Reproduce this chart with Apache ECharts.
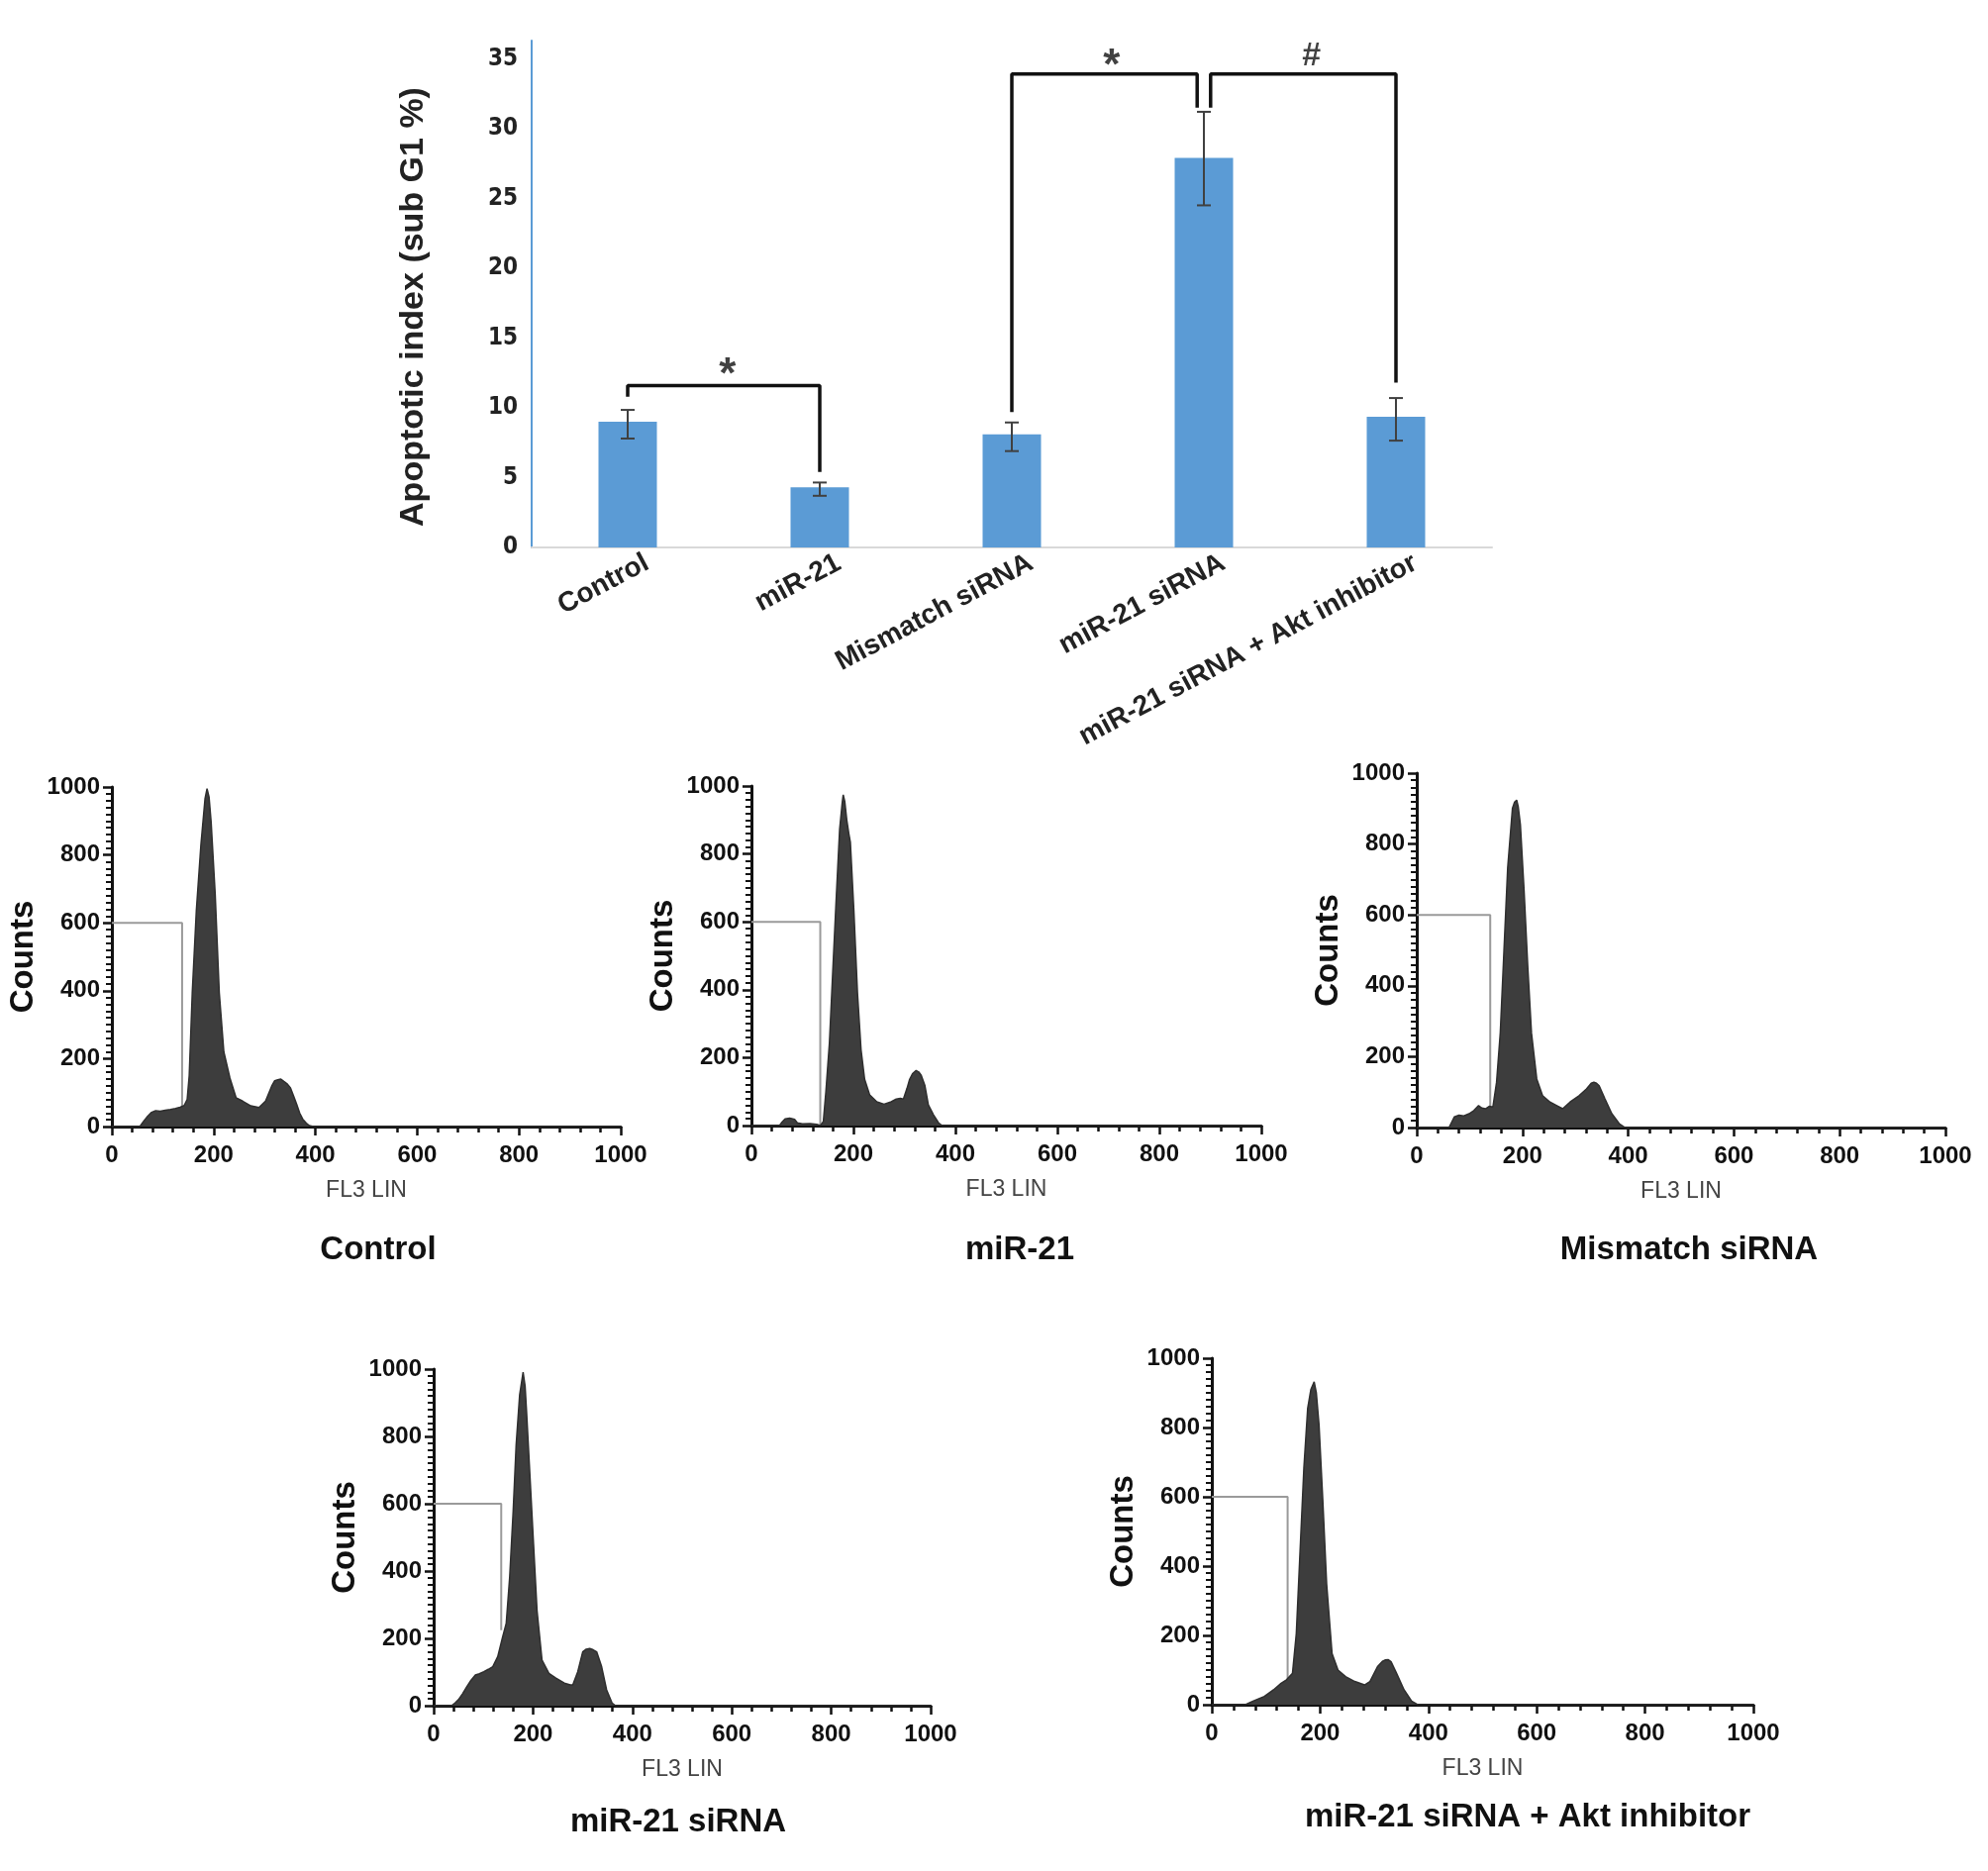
<!DOCTYPE html>
<html>
<head>
<meta charset="utf-8">
<script src="https://cdn.jsdelivr.net/npm/echarts@6/dist/echarts.min.js"></script>
<style>
  html, body { margin: 0; padding: 0; background: #fff; }
  #chart { width: 2008px; height: 1890px; }
</style>
</head>
<body>
<div id="chart"></div>
<script>
// bar chart (apoptotic index)
var categories = ['Control', 'miR-21', 'Mismatch siRNA', 'miR-21 siRNA', 'miR-21 siRNA + Akt inhibitor'];
var means = [9.0, 4.3, 8.1, 27.9, 9.35];
var errLow = [7.8, 3.7, 6.9, 24.5, 7.65];
var errHigh = [9.85, 4.65, 8.95, 31.2, 10.7];
var yTicks = [0, 5, 10, 15, 20, 25, 30, 35];

// significance brackets, in category units / percent
var bracket1 = [[0, 10.8], [0, 11.6], [1, 11.6], [1, 5.4]];
var bracket2 = [[2, 9.7], [2, 33.9], [2.965, 33.9], [2.965, 31.5]];
var bracket3 = [[3.035, 31.5], [3.035, 33.9], [4, 33.9], [4, 11.8]];
var marks = [[0.52, 12.3, '*'], [2.52, 34.4, '*'], [3.56, 35.2, '#']];

// flow cytometry histograms [FL3 LIN, counts]
var histControl = [[0,0],[55,0],[62,15],[70,30],[78,42],[86,47],[95,45],[105,48],[115,50],[125,53],[134,57],[142,62],[148,80],[152,150],[158,395],[166,637],[175,830],[183,965],[187,995],[191,970],[195,898],[203,685],[211,395],[220,220],[232,143],[244,85],[257,75],[273,61],[289,56],[302,75],[314,119],[320,135],[326,138],[332,140],[338,133],[345,125],[351,114],[357,90],[363,66],[369,40],[375,22],[382,10],[388,3],[396,0],[1000,0]];
var histMiR21 = [[0,0],[55,0],[60,10],[66,20],[75,22],[85,18],[90,8],[100,5],[115,6],[128,4],[135,0],[141,12],[146,100],[153,245],[159,438],[166,660],[173,873],[178,950],[180,974],[183,955],[187,900],[191,860],[194,835],[201,630],[208,390],[215,223],[222,136],[232,90],[246,70],[260,63],[274,70],[284,78],[292,80],[298,78],[305,109],[310,135],[316,153],[323,162],[328,158],[333,148],[340,119],[347,61],[357,32],[367,8],[374,0],[1000,0]];
var histMismatch = [[0,0],[61,0],[71,30],[80,35],[89,33],[99,39],[108,48],[117,62],[123,55],[130,53],[137,60],[144,58],[151,128],[158,267],[165,500],[172,733],[181,901],[185,918],[189,924],[192,905],[196,855],[203,669],[210,454],[217,267],[227,137],[238,90],[252,72],[265,62],[276,53],[290,72],[307,90],[321,109],[330,125],[335,128],[340,125],[345,118],[356,81],[369,39],[383,11],[394,0],[1000,0]];
var histSiRNA = [[0,0],[36,0],[43,8],[50,18],[58,35],[67,57],[75,75],[84,91],[92,95],[101,101],[110,108],[119,116],[129,146],[139,205],[146,244],[153,382],[160,578],[166,775],[173,923],[180,991],[184,950],[187,873],[194,676],[201,480],[208,283],[218,136],[232,96],[246,82],[263,67],[275,62],[280,62],[286,85],[290,101],[300,160],[307,168],[314,170],[321,166],[328,160],[338,116],[348,47],[359,8],[366,0],[1000,0]];
var histAkt = [[0,0],[62,0],[76,10],[97,24],[114,43],[128,62],[138,72],[149,91],[156,205],[163,444],[170,683],[177,855],[183,910],[189,932],[193,900],[198,807],[205,588],[212,349],[222,148],[233,100],[247,81],[264,67],[282,57],[292,67],[306,110],[315,125],[320,129],[326,130],[331,124],[341,91],[355,43],[369,10],[380,0],[1000,0]];

var gateControl = [[0,600],[138,600],[138,56]];
var gateMiR21 = [[0,600],[135,600],[135,3]];
var gateMismatch = [[0,600],[139,600],[139,48]];
var gateSiRNA = [[0,600],[136,600],[136,224]];
var gateAkt = [[0,600],[140,600],[140,72]];

var panelTitles = ['Control', 'miR-21', 'Mismatch siRNA', 'miR-21 siRNA', 'miR-21 siRNA + Akt inhibitor'];
var panelHists = [histControl, histMiR21, histMismatch, histSiRNA, histAkt];
var panelGates = [gateControl, gateMiR21, gateMismatch, gateSiRNA, gateAkt];

var panelGrids = [
  { left: 113, top: 795, width: 514, height: 343 },
  { left: 759, top: 794, width: 515, height: 343 },
  { left: 1431, top: 781, width: 534, height: 358 },
  { left: 438, top: 1383, width: 502, height: 340 },
  { left: 1224, top: 1372, width: 547, height: 350 }
];
var titlePos = [[382, 1263], [1030, 1263], [1706, 1263], [685, 1841], [1543, 1836]];

var chart = echarts.init(document.getElementById('chart'));

var grids = [{ left: 537, top: 41, width: 970, height: 512 }].concat(panelGrids).map(function (g) {
  g.outerBoundsMode = 'none';
  g.containLabel = false;
  return g;
});

// the category labels in the source sit a little right of the bar centres
var labelShift = 0.1;

var xAxes = [
  {
    type: 'category', gridIndex: 0, data: categories, position: 'bottom',
    axisLine: { lineStyle: { color: '#d9d9d9', width: 2 } },
    axisTick: { show: false },
    axisLabel: { show: false }
  },
  { type: 'value', gridIndex: 0, min: -0.5, max: 4.5, show: false },
  {
    type: 'value', gridIndex: 0, min: -0.5, max: 4.5, position: 'bottom', offset: 0,
    axisLine: { show: false }, axisTick: { show: false }, splitLine: { show: false },
    axisLabel: {
      customValues: categories.map(function (c, i) { return i + labelShift; }),
      rotate: 28, margin: 14, fontSize: 28, fontWeight: 'bold', color: '#222',
      formatter: function (v) { return categories[Math.round(v - labelShift)]; }
    }
  }
];
var yAxes = [
  {
    type: 'value', gridIndex: 0, min: 0, max: 36.3, interval: 5,
    axisLine: { show: true, onZero: false, lineStyle: { color: '#5b9bd5', width: 2 } },
    axisTick: { show: false },
    splitLine: { show: false },
    axisLabel: {
      showMaxLabel: false, margin: 14, fontSize: 24, fontWeight: 'bold', color: '#222',
      fontFamily: 'Liberation Sans Narrow, DejaVu Sans Condensed, Liberation Sans, sans-serif',
      formatter: function (v) { return yTicks.indexOf(v) >= 0 ? String(v) : ''; }
    },
    name: 'Apoptotic index (sub G1 %)', nameLocation: 'middle', nameGap: 102,
    nameTextStyle: { fontSize: 34, fontWeight: 'bold', color: '#222', padding: [0, 26, 0, 0] }
  }
];

var series = [
  {
    type: 'bar', xAxisIndex: 0, yAxisIndex: 0, data: means, barWidth: 59,
    itemStyle: { color: '#5b9bd5' }, z: 2
  },
  {
    type: 'custom', xAxisIndex: 0, yAxisIndex: 0, z: 3,
    data: categories.map(function (c, i) { return [i, errLow[i], errHigh[i]]; }),
    renderItem: function (params, api) {
      var lo = api.coord([api.value(0), api.value(1)]);
      var hi = api.coord([api.value(0), api.value(2)]);
      var hw = 7;
      var st = { stroke: '#404040', lineWidth: 2 };
      return {
        type: 'group',
        children: [
          { type: 'line', shape: { x1: lo[0], y1: lo[1], x2: hi[0], y2: hi[1] }, style: st },
          { type: 'line', shape: { x1: hi[0] - hw, y1: hi[1], x2: hi[0] + hw, y2: hi[1] }, style: st },
          { type: 'line', shape: { x1: lo[0] - hw, y1: lo[1], x2: lo[0] + hw, y2: lo[1] }, style: st }
        ]
      };
    }
  }
];

[bracket1, bracket2, bracket3].forEach(function (b) {
  series.push({
    type: 'line', xAxisIndex: 1, yAxisIndex: 0, data: b, symbol: 'none',
    lineStyle: { color: '#111', width: 3.5 }, z: 4
  });
});
series.push({
  type: 'scatter', xAxisIndex: 1, yAxisIndex: 0, symbolSize: 0, z: 5,
  data: marks.map(function (m) {
    return {
      value: [m[0], m[1]],
      label: { show: true, position: 'inside', formatter: m[2], color: '#111', fontWeight: 'bold', fontSize: m[2] === '*' ? 44 : 34 }
    };
  })
});

var graphics = [];
panelGrids.forEach(function (g, i) {
  var gi = i + 1;
  xAxes.push({
    type: 'value', gridIndex: gi, min: 0, max: 1000, interval: 200,
    axisLine: { lineStyle: { color: '#111', width: 3 } },
    axisTick: { length: 9, lineStyle: { color: '#111', width: 2.5 } },
    minorTick: { show: true, splitNumber: 5, length: 6, lineStyle: { color: '#111', width: 2.5 } },
    splitLine: { show: false },
    axisLabel: { margin: 17, fontSize: 24, fontWeight: 'bold', color: '#111', formatter: function (v) { return String(v); } },
    name: 'FL3 LIN', nameLocation: 'middle', nameGap: 53,
    nameTextStyle: { fontSize: 23, color: '#444' }
  });
  yAxes.push({
    type: 'value', gridIndex: gi, min: 0, max: 1000, interval: 200,
    axisLine: { show: true, lineStyle: { color: '#111', width: 3 } },
    axisTick: { show: true, length: 9, lineStyle: { color: '#111', width: 2.5 } },
    minorTick: { show: true, splitNumber: 10, length: 6, lineStyle: { color: '#111', width: 2 } },
    splitLine: { show: false },
    axisLabel: { margin: 12, fontSize: 24, fontWeight: 'bold', color: '#111', formatter: function (v) { return String(v); } },
    name: 'Counts', nameLocation: 'middle', nameGap: 73,
    nameTextStyle: { fontSize: 33, fontWeight: 'bold', color: '#111' }
  });
  series.push({
    type: 'line', xAxisIndex: gi + 2, yAxisIndex: gi, data: panelGates[i], symbol: 'none',
    lineStyle: { color: '#9a9a9a', width: 2 }, z: 2
  });
  series.push({
    type: 'line', xAxisIndex: gi + 2, yAxisIndex: gi, data: panelHists[i], symbol: 'none',
    lineStyle: { color: '#2e2e2e', width: 1.5 },
    areaStyle: { color: '#3d3d3d', opacity: 1 }, z: 3
  });
  graphics.push({
    type: 'text', x: titlePos[i][0], y: titlePos[i][1],
    style: {
      text: panelTitles[i], fill: '#111', textAlign: 'center', textVerticalAlign: 'middle', verticalAlign: 'middle',
      font: 'bold 33px Liberation Sans, Arial, sans-serif'
    }
  });
});

chart.setOption({
  animation: false,
  backgroundColor: '#fff',
  textStyle: { fontFamily: 'Liberation Sans, Arial, sans-serif' },
  grid: grids,
  xAxis: xAxes,
  yAxis: yAxes,
  series: series,
  graphic: graphics
});
</script>
</body>
</html>
